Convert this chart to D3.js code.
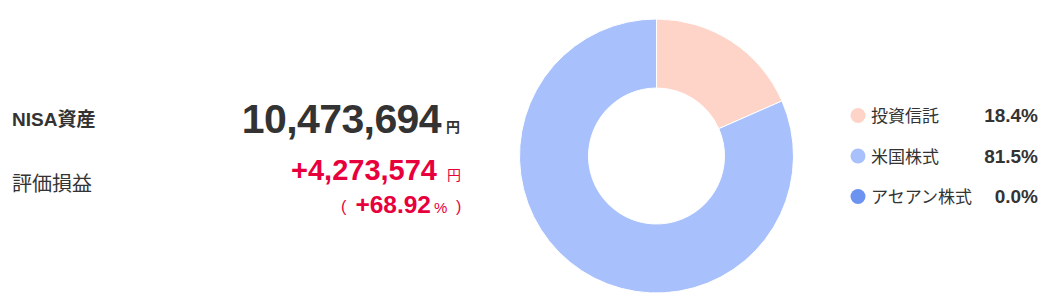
<!DOCTYPE html>
<html>
<head>
<meta charset="utf-8">
<script src="https://cdn.jsdelivr.net/npm/d3@7"></script>
<style>
  html, body { margin: 0; padding: 0; background: #fff; }
  svg { display: block; }
  text { font-family: "Liberation Sans", Arial, "Noto Sans CJK JP", sans-serif; }
</style>
</head>
<body>
<svg id="chart" width="1047" height="296"></svg>
<script>
// ---- data ----
const categories = ["投資信託", "米国株式", "アセアン株式"];
const shares = [18.4, 81.5, 0.0];
const totalLabel = "NISA資産";
const totalAsset = 10473694;
const gainLabel = "評価損益";
const gainAmount = 4273574;
const gainPercent = 68.92;
const yenUnit = "円";

// ---- styles ----
const sliceColors = ["#ffd4c8", "#a8c0fc", "#6b93ef"];
const textColor = "#333333";
const gainColor = "#e8003d";

const svg = d3.select("#chart");
const fmt = d3.format(",");

// ---- left summary ----
svg.append("text").attr("x", 12).attr("y", 126)
  .attr("font-size", 19).attr("font-weight", "bold").attr("fill", textColor)
  .text(totalLabel);

svg.append("text").attr("x", 441).attr("y", 132.5)
  .attr("text-anchor", "end").attr("font-size", 41).attr("font-weight", "bold")
  .attr("letter-spacing", "-0.6px").attr("fill", textColor)
  .text(fmt(totalAsset));
svg.append("text").attr("x", 446).attr("y", 132)
  .attr("font-size", 14).attr("font-weight", "bold").attr("fill", textColor)
  .text(yenUnit);

svg.append("text").attr("x", 12).attr("y", 191)
  .attr("font-size", 20).attr("fill", textColor)
  .text(gainLabel);

svg.append("text").attr("x", 437).attr("y", 179.5)
  .attr("text-anchor", "end").attr("font-size", 29).attr("font-weight", "bold")
  .attr("fill", gainColor)
  .text((gainAmount >= 0 ? "+" : "") + fmt(gainAmount));
svg.append("text").attr("x", 447).attr("y", 179.5)
  .attr("font-size", 14).attr("fill", gainColor)
  .text(yenUnit);

svg.append("text").attr("x", 341).attr("y", 212)
  .attr("font-size", 16).attr("fill", gainColor).text("(");
svg.append("text").attr("x", 431).attr("y", 213)
  .attr("text-anchor", "end").attr("font-size", 24.5).attr("font-weight", "bold")
  .attr("fill", gainColor)
  .text((gainPercent >= 0 ? "+" : "") + d3.format(".2f")(gainPercent));
svg.append("text").attr("x", 434).attr("y", 212.5)
  .attr("font-size", 15).attr("fill", gainColor).text("%");
svg.append("text").attr("x", 456).attr("y", 212)
  .attr("font-size", 16).attr("fill", gainColor).text(")");

// ---- donut ----
const cx = 656.5, cy = 156, outerR = 137, innerR = 68;
const pie = d3.pie().sort(null).value(d => d.v);
const arc = d3.arc().innerRadius(innerR).outerRadius(outerR);
const pieData = pie(categories.map((c, i) => ({ c, v: shares[i], i })));

svg.append("g").attr("transform", `translate(${cx},${cy})`)
  .selectAll("path").data(pieData).join("path")
  .attr("d", arc)
  .attr("fill", d => sliceColors[d.data.i])
  .attr("stroke", "#ffffff").attr("stroke-width", 1);

// ---- legend ----
const legendY = d3.scalePoint().domain(categories).range([122, 203]);
const legend = svg.append("g").selectAll("g").data(categories).join("g")
  .attr("transform", d => `translate(0,${legendY(d)})`);
legend.append("circle").attr("cx", 858).attr("cy", -6.5).attr("r", 7.5)
  .attr("fill", (d, i) => sliceColors[i]);
legend.append("text").attr("x", 871).attr("y", 0)
  .attr("font-size", 17).attr("fill", textColor).text(d => d);
legend.append("text").attr("x", 1038).attr("y", 0)
  .attr("text-anchor", "end").attr("font-size", 19).attr("font-weight", "bold")
  .attr("fill", textColor)
  .text((d, i) => d3.format(".1f")(shares[i]) + "%");
</script>
</body>
</html>
